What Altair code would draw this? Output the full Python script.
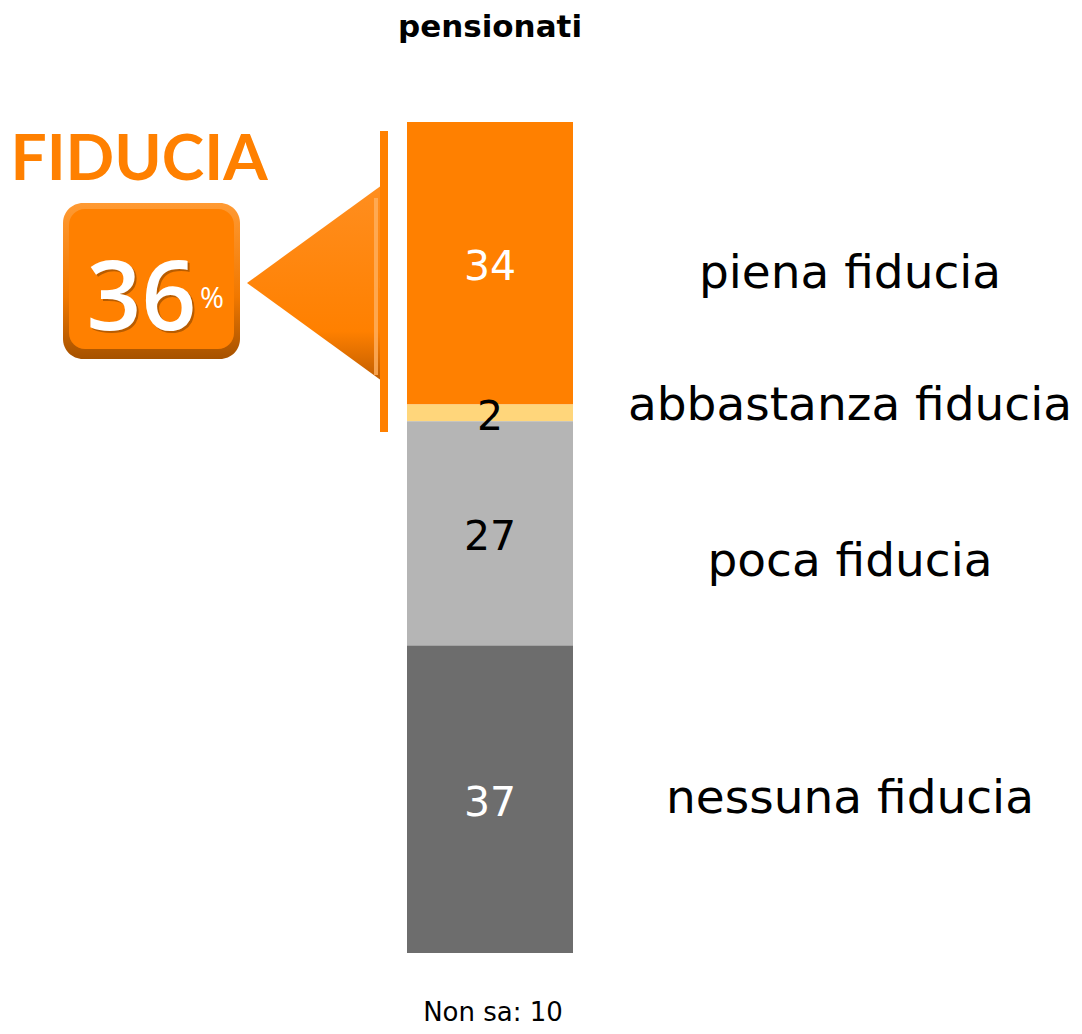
import altair as alt
import pandas as pd

# ---- data ----
group = "pensionati"
categories = ["piena fiducia", "abbastanza fiducia", "poca fiducia", "nessuna fiducia"]
values = [34, 2, 27, 37]
bar_colors = ["#FF8000", "#FFD67B", "#B5B5B5", "#6D6D6D"]
number_colors = ["#FFFFFF", "#000000", "#000000", "#FFFFFF"]
fiducia_label = "FIDUCIA"
fiducia_total = 36
non_sa = 10

df = pd.DataFrame({
    "group": group,
    "category": categories,
    "value": values,
    "idx": list(range(len(values))),
    "ncolor": number_colors,
})
df["end"] = df["value"].cumsum()
df["start"] = df["end"] - df["value"]
df["mid"] = (df["start"] + df["end"]) / 2

one = pd.DataFrame({"k": [0]})

FONT = "DejaVu Sans"
ORANGE = "#FF8000"

x_enc = alt.X("group:N", scale=alt.Scale(range=[399, 565], paddingInner=0, paddingOuter=0), axis=None)
y_scale = alt.Scale(domain=[0, 100], range=[114, 945], nice=False, zero=True)

base = alt.Chart(df)

bars = base.mark_bar().encode(
    x=x_enc,
    y=alt.Y("start:Q", scale=y_scale, axis=None),
    y2="end:Q",
    color=alt.Color("category:N", scale=alt.Scale(domain=categories, range=bar_colors), legend=None),
)

numbers = base.mark_text(font=FONT, fontSize=41, baseline="middle", dy=5).encode(
    x=x_enc,
    y=alt.Y("mid:Q", scale=y_scale, axis=None),
    text="value:Q",
    color=alt.Color("ncolor:N", scale=None),
)

label_dy = {"piena fiducia": 11, "abbastanza fiducia": -7, "poca fiducia": 29, "nessuna fiducia": 0}
label_layers = []
for cat in categories:
    label_layers.append(
        base.transform_filter(alt.datum.category == cat)
        .mark_text(font=FONT, fontSize=47, baseline="middle", align="center", dx=360, dy=label_dy[cat], color="#000000")
        .encode(x=x_enc, y=alt.Y("mid:Q", scale=y_scale, axis=None), text="category:N")
    )

title = alt.Chart(pd.DataFrame({"group": [group]})).mark_text(
    font=FONT, fontSize=31, fontWeight="bold", baseline="alphabetic", color="#000000"
).encode(x=x_enc, y=alt.value(29), text="group:N")

nonsa = alt.Chart(pd.DataFrame({"group": [group], "t": [f"Non sa: {non_sa}"]})).mark_text(
    font=FONT, fontSize=26, baseline="alphabetic", dx=3, color="#000000"
).encode(x=x_enc, y=alt.value(1013), text="t:N")

# ---- FIDUCIA call-out ----
fid = alt.Chart(pd.DataFrame({"t": [fiducia_label]})).mark_text(
    font="Lato", fontSize=64, fontWeight="bold", align="center", baseline="alphabetic", color=ORANGE
).encode(x=alt.value(131), y=alt.value(172), text="t:N")

vline = alt.Chart(one).mark_rule(color=ORANGE, strokeWidth=8).encode(
    x=alt.value(376), y=alt.value(123), y2=alt.value(424)
)

tri = alt.Chart(one).mark_point(
    shape="M 0.378 -1 L -1 0 L 0.378 1 Z", size=37249, filled=True, opacity=1,
    fill=alt.LinearGradient(gradient="linear", x1=0, y1=0, x2=0, y2=1, stops=[
        alt.GradientStop(color="#FF8E1F", offset=0),
        alt.GradientStop(color=ORANGE, offset=0.75),
        alt.GradientStop(color="#C25E00", offset=1),
    ]),
).encode(x=alt.value(335.5), y=alt.value(275))

tri_hi = alt.Chart(one).mark_rule(color="#FFB060", strokeWidth=4, opacity=0.8).encode(
    x=alt.value(368), y=alt.value(190), y2=alt.value(367)
)

box_outer = alt.Chart(one).mark_rect(
    cornerRadius=20,
    fill=alt.LinearGradient(gradient="linear", x1=0, y1=0, x2=0, y2=1, stops=[
        alt.GradientStop(color="#FF9A33", offset=0),
        alt.GradientStop(color="#F07800", offset=0.6),
        alt.GradientStop(color="#A65200", offset=1),
    ]),
).encode(x=alt.value(55), x2=alt.value(232), y=alt.value(195), y2=alt.value(351))

box_inner = alt.Chart(one).mark_rect(cornerRadius=16, fill=ORANGE).encode(
    x=alt.value(61), x2=alt.value(226), y=alt.value(201), y2=alt.value(341)
)

num_shadow = alt.Chart(pd.DataFrame({"t": [str(fiducia_total)]})).mark_text(
    font="Open Sans", fontSize=96, fontWeight=600, align="center", baseline="alphabetic", color="#8A4500", opacity=0.6
).encode(x=alt.value(135.5), y=alt.value(324), text="t:N")

num = alt.Chart(pd.DataFrame({"t": [str(fiducia_total)]})).mark_text(
    font="Open Sans", fontSize=96, fontWeight=600, align="center", baseline="alphabetic", color="#FFFFFF"
).encode(x=alt.value(133.5), y=alt.value(322), text="t:N")

pct = alt.Chart(pd.DataFrame({"t": ["%"]})).mark_text(
    font="Open Sans", fontSize=29, align="center", baseline="alphabetic", color="#FFFFFF"
).encode(x=alt.value(204), y=alt.value(300), text="t:N")

chart = alt.layer(
    bars, numbers, *label_layers, title, nonsa,
    vline, tri, tri_hi, box_outer, box_inner, num_shadow, num, pct, fid,
).properties(
    width=1066, height=1018, padding=0,
    autosize=alt.AutoSizeParams(type="none"),
).configure_view(strokeWidth=0)

chart.save("out.html", embed_options={"renderer": "svg", "actions": False})
